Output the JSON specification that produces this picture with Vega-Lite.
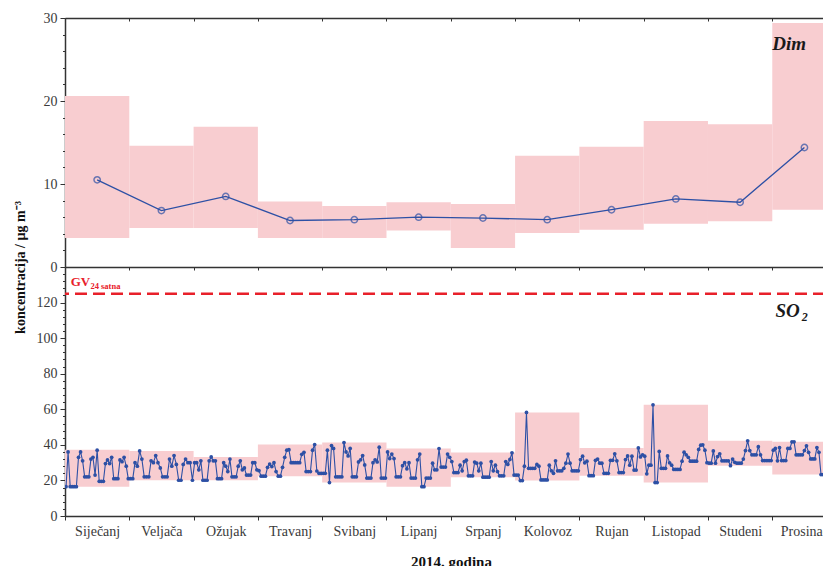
{
  "$schema": "https://vega.github.io/schema/vega-lite/v6.json",
  "background": "white",
  "padding": {"left": 12, "top": 11, "right": 0, "bottom": 0},
  "bounds": "flush",
  "spacing": 0,
  "config": {
    "font": "Liberation Serif",
    "view": {"stroke": null},
    "axis": {
      "labelFont": "Liberation Serif",
      "labelFontSize": 14,
      "labelColor": "#3a3a3a",
      "labelOverlap": false,
      "domainColor": "#333333",
      "domainWidth": 1.5,
      "tickColor": "#333333",
      "tickWidth": 1,
      "grid": false,
      "titleFont": "Liberation Serif",
      "titleColor": "#111111"
    }
  },
  "datasets": {
    "monthly": [
      {"month": "Siječanj", "start": 0, "end": 1, "mid": 0.5, "dimMin": 3.5, "dimMax": 20.6, "dimMean": 10.5, "so2Min": 16.5, "so2Max": 37.2},
      {"month": "Veljača", "start": 1, "end": 2, "mid": 1.5, "dimMin": 4.7, "dimMax": 14.6, "dimMean": 6.8, "so2Min": 20.1, "so2Max": 36.6},
      {"month": "Ožujak", "start": 2, "end": 3, "mid": 2.5, "dimMin": 4.7, "dimMax": 16.9, "dimMean": 8.5, "so2Min": 20.1, "so2Max": 33.2},
      {"month": "Travanj", "start": 3, "end": 4, "mid": 3.5, "dimMin": 3.5, "dimMax": 7.9, "dimMean": 5.6, "so2Min": 22.4, "so2Max": 40.2},
      {"month": "Svibanj", "start": 4, "end": 5, "mid": 4.5, "dimMin": 3.5, "dimMax": 7.35, "dimMean": 5.7, "so2Min": 18.8, "so2Max": 41.3},
      {"month": "Lipanj", "start": 5, "end": 6, "mid": 5.5, "dimMin": 4.4, "dimMax": 7.8, "dimMean": 6.0, "so2Min": 16.5, "so2Max": 37.9},
      {"month": "Srpanj", "start": 6, "end": 7, "mid": 6.5, "dimMin": 2.3, "dimMax": 7.6, "dimMean": 5.9, "so2Min": 21.8, "so2Max": 35.7},
      {"month": "Kolovoz", "start": 7, "end": 8, "mid": 7.5, "dimMin": 4.1, "dimMax": 13.4, "dimMean": 5.7, "so2Min": 19.9, "so2Max": 58.2},
      {"month": "Rujan", "start": 8, "end": 9, "mid": 8.5, "dimMin": 4.5, "dimMax": 14.5, "dimMean": 6.9, "so2Min": 22.7, "so2Max": 38.3},
      {"month": "Listopad", "start": 9, "end": 10, "mid": 9.5, "dimMin": 5.2, "dimMax": 17.6, "dimMean": 8.2, "so2Min": 18.8, "so2Max": 62.5},
      {"month": "Studeni", "start": 10, "end": 11, "mid": 10.5, "dimMin": 5.5, "dimMax": 17.2, "dimMean": 7.8, "so2Min": 28.3, "so2Max": 42.3},
      {"month": "Prosinac", "start": 11, "end": 12, "mid": 11.5, "dimMin": 6.9, "dimMax": 29.4, "dimMean": 14.4, "so2Min": 23.3, "so2Max": 41.7}
    ],
    "daily": [
      {"t":0.016,"v":16.5},{"t":0.048,"v":36},{"t":0.081,"v":16.5},{"t":0.113,"v":16.5},{"t":0.145,"v":16.5},{"t":0.177,"v":16.5},{"t":0.210,"v":33},{"t":0.242,"v":36},{"t":0.274,"v":31},{"t":0.306,"v":22},{"t":0.339,"v":22},{"t":0.371,"v":22},{"t":0.403,"v":32},{"t":0.435,"v":33},{"t":0.468,"v":23},{"t":0.500,"v":37},{"t":0.532,"v":19.5},{"t":0.565,"v":19.5},{"t":0.597,"v":19.5},{"t":0.629,"v":29.5},{"t":0.661,"v":31.5},{"t":0.694,"v":29.5},{"t":0.726,"v":33},{"t":0.758,"v":21},{"t":0.790,"v":21},{"t":0.823,"v":21},{"t":0.855,"v":31.5},{"t":0.887,"v":30.5},{"t":0.919,"v":33},{"t":0.952,"v":28},{"t":0.984,"v":21},
      {"t":1.018,"v":21},{"t":1.054,"v":21},{"t":1.089,"v":30},{"t":1.125,"v":28},{"t":1.161,"v":36.6},{"t":1.196,"v":32},{"t":1.232,"v":22},{"t":1.268,"v":22},{"t":1.304,"v":22},{"t":1.339,"v":31},{"t":1.375,"v":30},{"t":1.411,"v":34},{"t":1.446,"v":30},{"t":1.482,"v":27},{"t":1.518,"v":22},{"t":1.554,"v":22},{"t":1.589,"v":22},{"t":1.625,"v":32},{"t":1.661,"v":28},{"t":1.696,"v":34},{"t":1.732,"v":29},{"t":1.768,"v":20.1},{"t":1.804,"v":20.1},{"t":1.839,"v":29},{"t":1.875,"v":32},{"t":1.911,"v":30},{"t":1.946,"v":30},{"t":1.982,"v":20.1},
      {"t":2.016,"v":30},{"t":2.048,"v":30},{"t":2.081,"v":26},{"t":2.113,"v":31},{"t":2.145,"v":20.1},{"t":2.177,"v":20.1},{"t":2.210,"v":20.1},{"t":2.242,"v":31},{"t":2.274,"v":33.2},{"t":2.306,"v":31},{"t":2.339,"v":31},{"t":2.371,"v":21},{"t":2.403,"v":21},{"t":2.435,"v":21},{"t":2.468,"v":30},{"t":2.500,"v":28},{"t":2.532,"v":25},{"t":2.565,"v":32},{"t":2.597,"v":22},{"t":2.629,"v":22},{"t":2.661,"v":22},{"t":2.694,"v":28},{"t":2.726,"v":31},{"t":2.758,"v":26},{"t":2.790,"v":27},{"t":2.823,"v":23},{"t":2.855,"v":23},{"t":2.887,"v":23},{"t":2.919,"v":30},{"t":2.952,"v":30},{"t":2.984,"v":26},
      {"t":3.017,"v":25.5},{"t":3.050,"v":22.4},{"t":3.083,"v":22.4},{"t":3.117,"v":22.4},{"t":3.150,"v":27.4},{"t":3.183,"v":29.2},{"t":3.217,"v":27.8},{"t":3.250,"v":30},{"t":3.283,"v":25},{"t":3.317,"v":22.4},{"t":3.350,"v":22.4},{"t":3.383,"v":27.4},{"t":3.417,"v":33},{"t":3.450,"v":37},{"t":3.483,"v":37.3},{"t":3.517,"v":30},{"t":3.550,"v":30},{"t":3.583,"v":30},{"t":3.617,"v":30},{"t":3.650,"v":30},{"t":3.683,"v":34.7},{"t":3.717,"v":35.8},{"t":3.750,"v":25},{"t":3.783,"v":25},{"t":3.817,"v":25},{"t":3.850,"v":37},{"t":3.883,"v":40.2},{"t":3.917,"v":25.3},{"t":3.950,"v":24},{"t":3.983,"v":24},
      {"t":4.016,"v":24},{"t":4.048,"v":24},{"t":4.081,"v":37},{"t":4.113,"v":18.8},{"t":4.145,"v":39.6},{"t":4.177,"v":38},{"t":4.210,"v":22},{"t":4.242,"v":22},{"t":4.274,"v":22},{"t":4.306,"v":22},{"t":4.339,"v":41.3},{"t":4.371,"v":36},{"t":4.403,"v":33.8},{"t":4.435,"v":38},{"t":4.468,"v":22},{"t":4.500,"v":22},{"t":4.532,"v":22},{"t":4.565,"v":30.4},{"t":4.597,"v":31.6},{"t":4.629,"v":34},{"t":4.661,"v":28.7},{"t":4.694,"v":21.3},{"t":4.726,"v":21.3},{"t":4.758,"v":21.3},{"t":4.790,"v":30},{"t":4.823,"v":31.6},{"t":4.855,"v":30.4},{"t":4.887,"v":38.7},{"t":4.919,"v":21.3},{"t":4.952,"v":21.3},{"t":4.984,"v":21.3},
      {"t":5.017,"v":36},{"t":5.050,"v":32.3},{"t":5.083,"v":34.8},{"t":5.117,"v":32.3},{"t":5.150,"v":22},{"t":5.183,"v":22},{"t":5.217,"v":22},{"t":5.250,"v":28.3},{"t":5.283,"v":30},{"t":5.317,"v":26.5},{"t":5.350,"v":30},{"t":5.383,"v":21.3},{"t":5.417,"v":21.3},{"t":5.450,"v":21.3},{"t":5.483,"v":31.6},{"t":5.517,"v":34.8},{"t":5.550,"v":16.5},{"t":5.583,"v":16.5},{"t":5.617,"v":21.3},{"t":5.650,"v":21.3},{"t":5.683,"v":21.3},{"t":5.717,"v":29.7},{"t":5.750,"v":26},{"t":5.783,"v":26},{"t":5.817,"v":37.9},{"t":5.850,"v":27.5},{"t":5.883,"v":27.5},{"t":5.917,"v":27.5},{"t":5.950,"v":34.8},{"t":5.983,"v":33},
      {"t":6.016,"v":30.6},{"t":6.048,"v":24.4},{"t":6.081,"v":24.4},{"t":6.113,"v":24.4},{"t":6.145,"v":28.6},{"t":6.177,"v":25.4},{"t":6.210,"v":30.6},{"t":6.242,"v":31.4},{"t":6.274,"v":22.6},{"t":6.306,"v":22.6},{"t":6.339,"v":22.6},{"t":6.371,"v":30.3},{"t":6.403,"v":29.7},{"t":6.435,"v":25.4},{"t":6.468,"v":29.7},{"t":6.500,"v":21.8},{"t":6.532,"v":21.8},{"t":6.565,"v":21.8},{"t":6.597,"v":21.8},{"t":6.629,"v":30.6},{"t":6.661,"v":25.4},{"t":6.694,"v":28.6},{"t":6.726,"v":25},{"t":6.758,"v":22.6},{"t":6.790,"v":22.6},{"t":6.823,"v":22.6},{"t":6.855,"v":30.6},{"t":6.887,"v":29},{"t":6.919,"v":31.8},{"t":6.952,"v":35.5},{"t":6.984,"v":23},
      {"t":7.016,"v":23},{"t":7.048,"v":23},{"t":7.081,"v":19.9},{"t":7.113,"v":19.9},{"t":7.145,"v":28},{"t":7.177,"v":58.2},{"t":7.210,"v":26.8},{"t":7.242,"v":26.8},{"t":7.274,"v":26.8},{"t":7.306,"v":26.8},{"t":7.339,"v":29},{"t":7.371,"v":28},{"t":7.403,"v":20.3},{"t":7.435,"v":20.3},{"t":7.468,"v":20.3},{"t":7.500,"v":20.3},{"t":7.532,"v":28.6},{"t":7.565,"v":25.4},{"t":7.597,"v":24},{"t":7.629,"v":31},{"t":7.661,"v":25.4},{"t":7.694,"v":25.4},{"t":7.726,"v":25.4},{"t":7.758,"v":26.8},{"t":7.790,"v":29.7},{"t":7.823,"v":34.8},{"t":7.855,"v":29.7},{"t":7.887,"v":25.4},{"t":7.919,"v":25.4},{"t":7.952,"v":25.4},{"t":7.984,"v":25.4},
      {"t":8.017,"v":31.7},{"t":8.050,"v":33.6},{"t":8.083,"v":29.9},{"t":8.117,"v":30.8},{"t":8.150,"v":22.7},{"t":8.183,"v":22.7},{"t":8.217,"v":22.7},{"t":8.250,"v":31.3},{"t":8.283,"v":32},{"t":8.317,"v":29.7},{"t":8.350,"v":29.7},{"t":8.383,"v":24},{"t":8.417,"v":24},{"t":8.450,"v":24},{"t":8.483,"v":31.3},{"t":8.517,"v":31.3},{"t":8.550,"v":35},{"t":8.583,"v":31},{"t":8.617,"v":24.4},{"t":8.650,"v":24.4},{"t":8.683,"v":24.4},{"t":8.717,"v":31.7},{"t":8.750,"v":33.8},{"t":8.783,"v":28.6},{"t":8.817,"v":33.6},{"t":8.850,"v":25.8},{"t":8.883,"v":25.8},{"t":8.917,"v":38.3},{"t":8.950,"v":33.2},{"t":8.983,"v":34.4},
      {"t":9.016,"v":33.6},{"t":9.048,"v":23.7},{"t":9.081,"v":28.6},{"t":9.113,"v":28.6},{"t":9.145,"v":62.5},{"t":9.177,"v":18.8},{"t":9.210,"v":18.8},{"t":9.242,"v":36.3},{"t":9.274,"v":26.8},{"t":9.306,"v":26.8},{"t":9.339,"v":26.8},{"t":9.371,"v":33.8},{"t":9.403,"v":29.9},{"t":9.435,"v":28.6},{"t":9.468,"v":26.2},{"t":9.500,"v":26.2},{"t":9.532,"v":26.2},{"t":9.565,"v":26.2},{"t":9.597,"v":30.8},{"t":9.629,"v":35.9},{"t":9.661,"v":34.4},{"t":9.694,"v":33},{"t":9.726,"v":30.8},{"t":9.758,"v":30.8},{"t":9.790,"v":30.8},{"t":9.823,"v":30.8},{"t":9.855,"v":37.4},{"t":9.887,"v":39.8},{"t":9.919,"v":40},{"t":9.952,"v":37},{"t":9.984,"v":30},
      {"t":10.017,"v":29.7},{"t":10.050,"v":29.7},{"t":10.083,"v":36.6},{"t":10.117,"v":29.7},{"t":10.150,"v":33.4},{"t":10.183,"v":35},{"t":10.217,"v":31},{"t":10.250,"v":31},{"t":10.283,"v":31},{"t":10.317,"v":31},{"t":10.350,"v":28.3},{"t":10.383,"v":32},{"t":10.417,"v":30.2},{"t":10.450,"v":29.7},{"t":10.483,"v":29.7},{"t":10.517,"v":29.7},{"t":10.550,"v":32},{"t":10.583,"v":36.8},{"t":10.617,"v":42.3},{"t":10.650,"v":36.8},{"t":10.683,"v":34.4},{"t":10.717,"v":34.4},{"t":10.750,"v":34.4},{"t":10.783,"v":39},{"t":10.817,"v":34.4},{"t":10.850,"v":31.2},{"t":10.883,"v":31.2},{"t":10.917,"v":31.2},{"t":10.950,"v":31.2},{"t":10.983,"v":31.2},
      {"t":11.016,"v":37},{"t":11.048,"v":38},{"t":11.081,"v":31},{"t":11.113,"v":38.5},{"t":11.145,"v":31.2},{"t":11.177,"v":31.2},{"t":11.210,"v":31.2},{"t":11.242,"v":38},{"t":11.274,"v":38},{"t":11.306,"v":41.7},{"t":11.339,"v":41.7},{"t":11.371,"v":34.4},{"t":11.403,"v":34.4},{"t":11.435,"v":34.4},{"t":11.468,"v":34.4},{"t":11.500,"v":36.8},{"t":11.532,"v":39.5},{"t":11.565,"v":35.8},{"t":11.597,"v":32.1},{"t":11.629,"v":32.1},{"t":11.661,"v":32.1},{"t":11.694,"v":38.5},{"t":11.726,"v":35.8},{"t":11.758,"v":23.3},{"t":11.790,"v":23.3},{"t":11.823,"v":23.3},{"t":11.855,"v":28},{"t":11.887,"v":33},{"t":11.919,"v":35},{"t":11.952,"v":30},{"t":11.984,"v":32}
    ]
  },
  "vconcat": [
    {
      "width": 760,
      "height": 249,
      "resolve": {"axis": {"x": "independent"}},
      "layer": [
        {
          "data": {"name": "monthly"},
          "mark": {"type": "rect", "color": "#f8cdd0", "clip": true},
          "encoding": {
            "x": {"field": "start", "type": "quantitative", "scale": {"domain": [0, 11.82], "nice": false, "zero": false},
                  "axis": {"orient": "top", "values": [0,1,2,3,4,5,6,7,8,9,10,11], "tickCount": 100, "labels": false, "tickSize": -3, "title": null}},
            "x2": {"field": "end"},
            "y": {"field": "dimMin", "type": "quantitative", "scale": {"domain": [0, 30], "nice": false},
                  "axis": {"values": [0,2,4,6,8,10,12,14,16,18,20,22,24,26,28,30], "tickCount": 100, "format": "d",
                           "labelExpr": "datum.value == 0 || datum.value == 10 || datum.value == 20 || datum.value == 30 ? datum.label : ''",
                           "tickSize": {"condition": {"test": "datum.value % 10 === 0", "value": 5}, "value": 2.5},
                           "labelPadding": 3, "labelOverlap": false, "labelBound": false, "title": null}},
            "y2": {"field": "dimMax"}
          }
        },
        {
          "data": {"name": "monthly"},
          "mark": {"type": "line", "color": "#2d50a5", "strokeWidth": 1.3, "clip": true},
          "encoding": {
            "x": {"field": "mid", "type": "quantitative", "axis": {"orient": "bottom", "values": [0,1,2,3,4,5,6,7,8,9,10,11], "tickCount": 100, "labels": false, "tickSize": 3, "title": null}},
            "y": {"field": "dimMean", "type": "quantitative"}
          }
        },
        {
          "data": {"name": "monthly"},
          "mark": {"type": "point", "filled": false, "color": "#2d50a5", "size": 40, "strokeWidth": 1.5, "clip": true},
          "encoding": {
            "x": {"field": "mid", "type": "quantitative", "axis": null},
            "y": {"field": "dimMean", "type": "quantitative"}
          }
        },
        {
          "data": {"values": [{}]},
          "mark": {"type": "text", "text": "Dim", "font": "Liberation Serif", "fontSize": 19, "fontWeight": "bold", "fontStyle": "italic", "align": "left", "baseline": "alphabetic", "color": "#1a1a1a"},
          "encoding": {
            "x": {"datum": 11.0, "type": "quantitative", "axis": null},
            "y": {"datum": 26.1, "type": "quantitative"}
          }
        }
      ]
    },
    {
      "width": 760,
      "height": 249,
      "layer": [
        {
          "data": {"name": "monthly"},
          "mark": {"type": "rect", "color": "#f8cdd0", "clip": true},
          "encoding": {
            "x": {"field": "start", "type": "quantitative", "scale": {"domain": [0, 11.82], "nice": false, "zero": false},
                  "axis": {"orient": "bottom", "values": [0,1,2,3,4,5,6,7,8,9,10,11], "tickCount": 100,
                           "labelExpr": "['Siječanj','Veljača','Ožujak','Travanj','Svibanj','Lipanj','Srpanj','Kolovoz','Rujan','Listopad','Studeni','Prosinac'][datum.value]",
                           "labelOffset": 32.15, "labelFlush": false, "labelOverlap": false, "labelPadding": 4, "tickSize": 4,
                           "title": "2014. godina", "titleFontSize": 15, "titleFontWeight": "bold", "titleX": 386, "titleY": 38, "titleBaseline": "top"}},
            "x2": {"field": "end"},
            "y": {"field": "so2Min", "type": "quantitative", "scale": {"domain": [0, 140], "nice": false},
                  "axis": {"values": [0,4,8,12,16,20,24,28,32,36,40,44,48,52,56,60,64,68,72,76,80,84,88,92,96,100,104,108,112,116,120,124,128,132,136], "tickCount": 100, "format": "d",
                           "labelExpr": "datum.value == 0 || datum.value == 20 || datum.value == 40 || datum.value == 60 || datum.value == 80 || datum.value == 100 || datum.value == 120 ? datum.label : ''",
                           "tickSize": {"condition": {"test": "datum.value % 20 === 0", "value": 5}, "value": 2.5},
                           "labelPadding": 3, "labelOverlap": false, "labelBound": false,
                           "title": "koncentracija / µg m⁻³", "titleFontSize": 14, "titleFontWeight": "bold", "titleX": -38, "titleY": 0}},
            "y2": {"field": "so2Max"}
          }
        },
        {
          "data": {"values": [{}]},
          "mark": {"type": "rule", "color": "#e8202a", "strokeWidth": 2.5, "strokeDash": [12, 6]},
          "encoding": {"y": {"datum": 125, "type": "quantitative"}}
        },
        {
          "data": {"name": "daily"},
          "mark": {"type": "line", "color": "#2d50a5", "strokeWidth": 1.1, "clip": true},
          "encoding": {
            "x": {"field": "t", "type": "quantitative"},
            "y": {"field": "v", "type": "quantitative"}
          }
        },
        {
          "data": {"name": "daily"},
          "mark": {"type": "point", "filled": true, "color": "#2d50a5", "size": 14, "opacity": 1, "clip": true},
          "encoding": {
            "x": {"field": "t", "type": "quantitative"},
            "y": {"field": "v", "type": "quantitative"}
          }
        },
        {
          "data": {"values": [{}]},
          "mark": {"type": "text", "text": "GV", "font": "Liberation Serif", "fontSize": 13, "fontWeight": "bold", "align": "left", "baseline": "alphabetic", "color": "#e8202a"},
          "encoding": {"x": {"datum": 0.089, "type": "quantitative"}, "y": {"datum": 129.2, "type": "quantitative"}}
        },
        {
          "data": {"values": [{}]},
          "mark": {"type": "text", "text": "24 satna", "font": "Liberation Serif", "fontSize": 8.5, "fontWeight": "bold", "align": "left", "baseline": "alphabetic", "color": "#e8202a"},
          "encoding": {"x": {"datum": 0.395, "type": "quantitative"}, "y": {"datum": 127.7, "type": "quantitative"}}
        },
        {
          "data": {"values": [{}]},
          "mark": {"type": "text", "text": "SO", "font": "Liberation Serif", "fontSize": 19, "fontWeight": "bold", "fontStyle": "italic", "align": "left", "baseline": "alphabetic", "color": "#1a1a1a"},
          "encoding": {"x": {"datum": 11.05, "type": "quantitative"}, "y": {"datum": 111.7, "type": "quantitative"}}
        },
        {
          "data": {"values": [{}]},
          "mark": {"type": "text", "text": "2", "font": "Liberation Serif", "fontSize": 12, "fontWeight": "bold", "fontStyle": "italic", "align": "left", "baseline": "alphabetic", "color": "#1a1a1a"},
          "encoding": {"x": {"datum": 11.46, "type": "quantitative"}, "y": {"datum": 109.5, "type": "quantitative"}}
        }
      ]
    }
  ]
}
